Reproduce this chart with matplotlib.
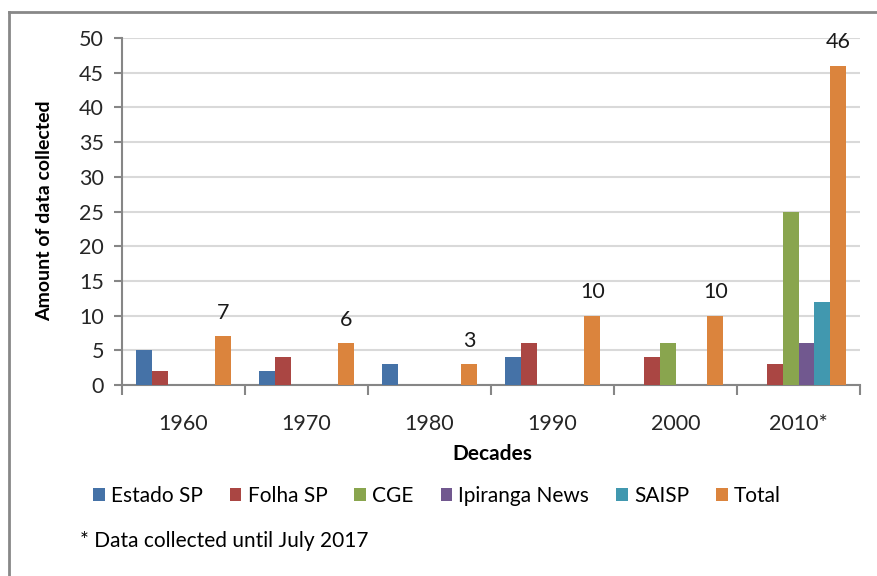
import numpy as np
import matplotlib.pyplot as plt

plt.rcParams['font.family'] = ['Lato', 'DejaVu Sans']

decades = ['1960', '1970', '1980', '1990', '2000', '2010*']
series = ['Estado SP', 'Folha SP', 'CGE', 'Ipiranga News', 'SAISP', 'Total']
estado_sp = [5, 2, 3, 4, 0, 0]
folha_sp = [2, 4, 0, 6, 4, 3]
cge = [0, 0, 0, 0, 6, 25]
ipiranga = [0, 0, 0, 0, 0, 6]
saisp = [0, 0, 0, 0, 0, 12]
total = [7, 6, 3, 10, 10, 46]
colors = ['#4572A7', '#AA4643', '#89A54E', '#71588F', '#4198AF', '#DB843D']

W, H = 877, 576
fig = plt.figure(figsize=(W / 100, H / 100), dpi=100)
ax = fig.add_axes([122 / W, (H - 385) / H, (860 - 122) / W, (385 - 38) / H])

# outer chart border (only top and left visible)
fig.add_artist(plt.Line2D([9 / W, 1], [1 - 12 / H, 1 - 12 / H], color='#888888', lw=2))
fig.add_artist(plt.Line2D([9 / W, 9 / W], [0, 1 - 12 / H], color='#888888', lw=2))

x = np.arange(len(decades))
w = 0.13
bars = []
for i, (vals, name) in enumerate(zip([estado_sp, folha_sp, cge, ipiranga, saisp, total], series)):
    b = ax.bar(x + (i - 2.5) * w, vals, width=w, color=colors[i], label=name, zorder=3)
    bars.append(b)

# labels over the Total bars
for xi, v in zip(x + 2.5 * w, total):
    ax.annotate(str(v), (xi, v), xytext=(0, 17), textcoords='offset points',
                ha='center', va='center', fontsize=15.5, color='#1a1a1a')

ax.set_xlim(-0.5, 5.5)
ax.set_ylim(0, 50)
ax.set_yticks(np.arange(0, 51, 5))
ax.yaxis.grid(True, color='#d9d9d9', lw=1.5, zorder=0)
ax.set_axisbelow(True)

ax.set_xticks(x)
ax.set_xticklabels(decades)
ax.set_xticks(np.arange(-0.5, 6, 1), minor=True)
ax.tick_params(axis='x', which='major', length=0, pad=21, labelsize=15.5, labelcolor='#262626')
ax.tick_params(axis='x', which='minor', length=7, width=1.5, color='#868686', direction='out')
ax.tick_params(axis='y', length=6, width=1.5, color='#868686', pad=7, labelsize=15.5, labelcolor='#262626')

for s in ['top', 'right']:
    ax.spines[s].set_visible(False)
for s in ['left', 'bottom']:
    ax.spines[s].set_color('#868686')
    ax.spines[s].set_linewidth(1.5)

fig.text(45 / W, 1 - 211 / H, 'Amount of data collected', rotation=90, ha='center', va='center',
         fontsize=14, fontweight='bold')
fig.text(492 / W, 1 - 454 / H, 'Decades', ha='center', va='center', fontsize=15, fontweight='bold')

fig.legend(handles=bars, labels=series, loc='center', bbox_to_anchor=(437 / W, 1 - 496 / H),
           ncol=6, frameon=False, fontsize=15, handlelength=0.55, handleheight=0.55,
           handletextpad=0.3, columnspacing=1.3)

fig.text(80 / W, 1 - 541 / H, '* Data collected until July 2017', ha='left', va='center', fontsize=15)

fig.savefig('out.png', dpi=100)
